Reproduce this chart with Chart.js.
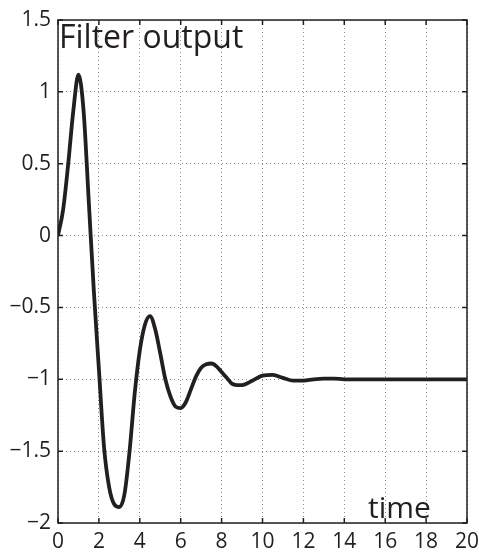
<!DOCTYPE html>
<html>
<head>
<meta charset="utf-8">
<script src="https://cdn.jsdelivr.net/npm/chart.js@4"></script>
<style>
  html, body { margin: 0; padding: 0; background: #fff; }
  #wrap { width: 479px; height: 553px; position: relative; }
</style>
</head>
<body>
<div id="wrap"><canvas id="chart"></canvas></div>
<script>
// values
const times = [0, 0.25, 0.5, 0.75, 1.0, 1.25, 1.5, 1.75, 2.0, 2.25, 2.5, 2.75, 3.0, 3.25, 3.5, 3.75,
  4.0, 4.25, 4.5, 4.75, 5.0, 5.25, 5.5, 5.75, 6.0, 6.25, 6.5, 6.75, 7.0, 7.25, 7.5, 7.75,
  8.0, 8.25, 8.5, 8.75, 9.0, 9.5, 10.0, 10.5, 11.0, 11.5, 12.0, 12.5, 13.0, 13.5, 14.0,
  15.0, 16.0, 17.0, 18.0, 19.0, 20.0];
const output = [0, 0.18, 0.5, 0.87, 1.12, 0.87, 0.25, -0.38, -0.93, -1.47, -1.75, -1.87, -1.89, -1.8, -1.5, -1.1,
  -0.8, -0.62, -0.56, -0.65, -0.82, -1.0, -1.12, -1.19, -1.2, -1.16, -1.07, -0.98, -0.92, -0.895, -0.89, -0.91,
  -0.95, -0.99, -1.03, -1.04, -1.04, -1.01, -0.975, -0.97, -0.99, -1.01, -1.01, -1.0, -0.995, -0.995, -1.0,
  -1.0, -1.0, -1.0, -1.0, -1.0, -1.0];
const xTicks = [0, 2, 4, 6, 8, 10, 12, 14, 16, 18, 20];
const yTicks = [-2, -1.5, -1, -0.5, 0, 0.5, 1, 1.5];
const titleText = 'Filter output';
const xLabelText = 'time';

const FONT = '"Open Sans", "DejaVu Sans", sans-serif';
const INK = '#231f20';

// box, inward ticks and the two texts inside the plot
const framePlugin = {
  id: 'frame',
  afterDraw(chart) {
    const { ctx, chartArea: a, scales } = chart;
    ctx.save();
    ctx.strokeStyle = INK;
    ctx.lineWidth = 1.5;
    ctx.strokeRect(a.left, a.top, a.right - a.left, a.bottom - a.top);
    const len = 5;
    ctx.beginPath();
    xTicks.forEach(v => {
      const px = scales.x.getPixelForValue(v);
      ctx.moveTo(px, a.bottom); ctx.lineTo(px, a.bottom - len);
      ctx.moveTo(px, a.top); ctx.lineTo(px, a.top + len);
    });
    yTicks.forEach(v => {
      const py = scales.y.getPixelForValue(v);
      ctx.moveTo(a.left, py); ctx.lineTo(a.left + len, py);
      ctx.moveTo(a.right, py); ctx.lineTo(a.right - len, py);
    });
    ctx.stroke();

    ctx.fillStyle = INK;
    ctx.textBaseline = 'alphabetic';
    ctx.font = '32px ' + FONT;
    ctx.textAlign = 'left';
    ctx.fillText(titleText, a.left + 1, a.top + 28);
    ctx.font = '30px ' + FONT;
    ctx.fillText(xLabelText, a.left + 310, a.bottom - 5);
    ctx.restore();
  }
};

const fmt = v => String(v).replace('-', '\u2212');

const gridStyle = { color: '#8a8a8a', lineWidth: 1, drawTicks: false, tickLength: 0 };
const borderStyle = { display: false, dash: [1, 3] };

new Chart(document.getElementById('chart'), {
  type: 'line',
  data: {
    datasets: [{
      data: times.map((t, i) => ({ x: t, y: output[i] })),
      borderColor: INK,
      borderWidth: 3.8,
      pointRadius: 0,
      cubicInterpolationMode: 'monotone',
      fill: false
    }]
  },
  options: {
    responsive: true,
    maintainAspectRatio: false,
    animation: false,
    layout: { padding: { top: 20, right: 12, left: 0, bottom: 0 } },
    plugins: { legend: { display: false }, tooltip: { enabled: false } },
    scales: {
      x: {
        type: 'linear',
        min: 0, max: 20,
        afterBuildTicks: s => { s.ticks = xTicks.map(v => ({ value: v })); },
        afterFit: s => { s.height = 30; s.paddingLeft = 0; s.paddingRight = 0; },
        border: borderStyle,
        grid: gridStyle,
        ticks: { padding: 6, color: INK, font: { family: FONT, size: 21 }, callback: v => fmt(v), maxRotation: 0 }
      },
      y: {
        min: -2, max: 1.5,
        afterBuildTicks: s => { s.ticks = yTicks.map(v => ({ value: v })); },
        afterFit: s => { s.width = 58; s.paddingTop = 0; s.paddingBottom = 0; },
        border: borderStyle,
        grid: gridStyle,
        ticks: { padding: 7, color: INK, font: { family: FONT, size: 21 }, callback: v => fmt(v) }
      }
    }
  },
  plugins: [framePlugin]
});
</script>
</body>
</html>
